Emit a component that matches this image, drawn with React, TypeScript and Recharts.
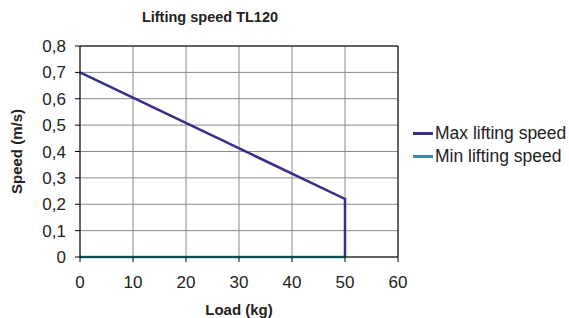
import React from 'react';
import {
  LineChart,
  Line,
  XAxis,
  YAxis,
  CartesianGrid,
  ReferenceLine,
  Label,
} from 'recharts';

const loads = [0, 50, 50];
const maxSpeed = [0.7, 0.22, 0];
const minLoads = [0, 50];
const minSpeed = [0, 0];
const xTicks = [0, 10, 20, 30, 40, 50, 60];
const yTicks = [0, 0.1, 0.2, 0.3, 0.4, 0.5, 0.6, 0.7, 0.8];

const maxData = loads.map((load, i) => ({ load, speed: maxSpeed[i] }));
const minData = minLoads.map((load, i) => ({ load, speed: minSpeed[i] }));

const MAX_COLOR = '#352e8a';
const MIN_COLOR = '#1b9aa0';
const FONT = '"Liberation Sans", Arial, sans-serif';

const fmt = (v: number) => (v === 0 ? '0' : v.toFixed(1).replace('.', ','));

const series = [
  { name: 'Max lifting speed', color: MAX_COLOR },
  { name: 'Min lifting speed', color: MIN_COLOR },
];

export default function App() {
  return (
    <div style={{ position: 'fixed', left: 0, top: 0, width: 569, height: 318, background: '#fff' }}>
      <div
        style={{
          position: 'absolute',
          left: 0,
          width: 420,
          top: 9,
          textAlign: 'center',
          fontFamily: FONT,
          fontWeight: 'bold',
          fontSize: 14.5,
          color: '#222',
        }}
      >
        Lifting speed TL120
      </div>
      {/* legend drawn outside so it does not eat chart height */}
      <div
        style={{
          position: 'absolute',
          left: 413,
          top: 122,
          fontFamily: FONT,
          fontSize: 17.5,
          color: '#222',
          lineHeight: '23px',
          whiteSpace: 'nowrap',
        }}
      >
        {series.map((s) => (
          <div key={s.name} style={{ display: 'flex', alignItems: 'center' }}>
            <span style={{ width: 20, height: 3, background: s.color, marginRight: 2, display: 'inline-block' }} />
            {s.name}
          </div>
        ))}
      </div>
      <LineChart width={569} height={318} margin={{ top: 46, right: 171, bottom: 0, left: 0 }}>
        <CartesianGrid stroke="#8a8a8a" strokeWidth={1} />
        <XAxis
          dataKey="load"
          type="number"
          domain={[0, 60]}
          ticks={xTicks}
          interval={0}
          allowDuplicatedCategory={false}
          height={61}
          stroke="#000"
          tickSize={5}
          tickMargin={14}
          tick={{ fill: '#222', fontSize: 17, fontFamily: FONT }}
        >
          <Label
            value="Load (kg)"
            position="insideBottom"
            offset={3}
            style={{ fill: '#222', fontWeight: 'bold', fontSize: 15, fontFamily: FONT }}
          />
        </XAxis>
        <YAxis
          type="number"
          domain={[0, 0.8]}
          ticks={yTicks}
          interval={0}
          width={80}
          stroke="#000"
          tickSize={5}
          tickMargin={9}
          tickFormatter={fmt}
          tick={{ fill: '#222', fontSize: 17, fontFamily: FONT }}
        >
          <Label
            value="Speed (m/s)"
            angle={-90}
            position="insideLeft"
            offset={17}
            style={{ textAnchor: 'middle', fill: '#222', fontWeight: 'bold', fontSize: 15, fontFamily: FONT }}
          />
        </YAxis>
        <ReferenceLine y={0.8} stroke="#000" />
        <ReferenceLine x={60} stroke="#000" />
        <Line
          data={maxData}
          dataKey="speed"
          name="Max lifting speed"
          stroke={MAX_COLOR}
          strokeWidth={2.5}
          dot={false}
          type="linear"
          isAnimationActive={false}
        />
        <Line
          data={minData}
          dataKey="speed"
          name="Min lifting speed"
          stroke={MIN_COLOR}
          strokeWidth={2.5}
          dot={false}
          type="linear"
          isAnimationActive={false}
        />
      </LineChart>
    </div>
  );
}
